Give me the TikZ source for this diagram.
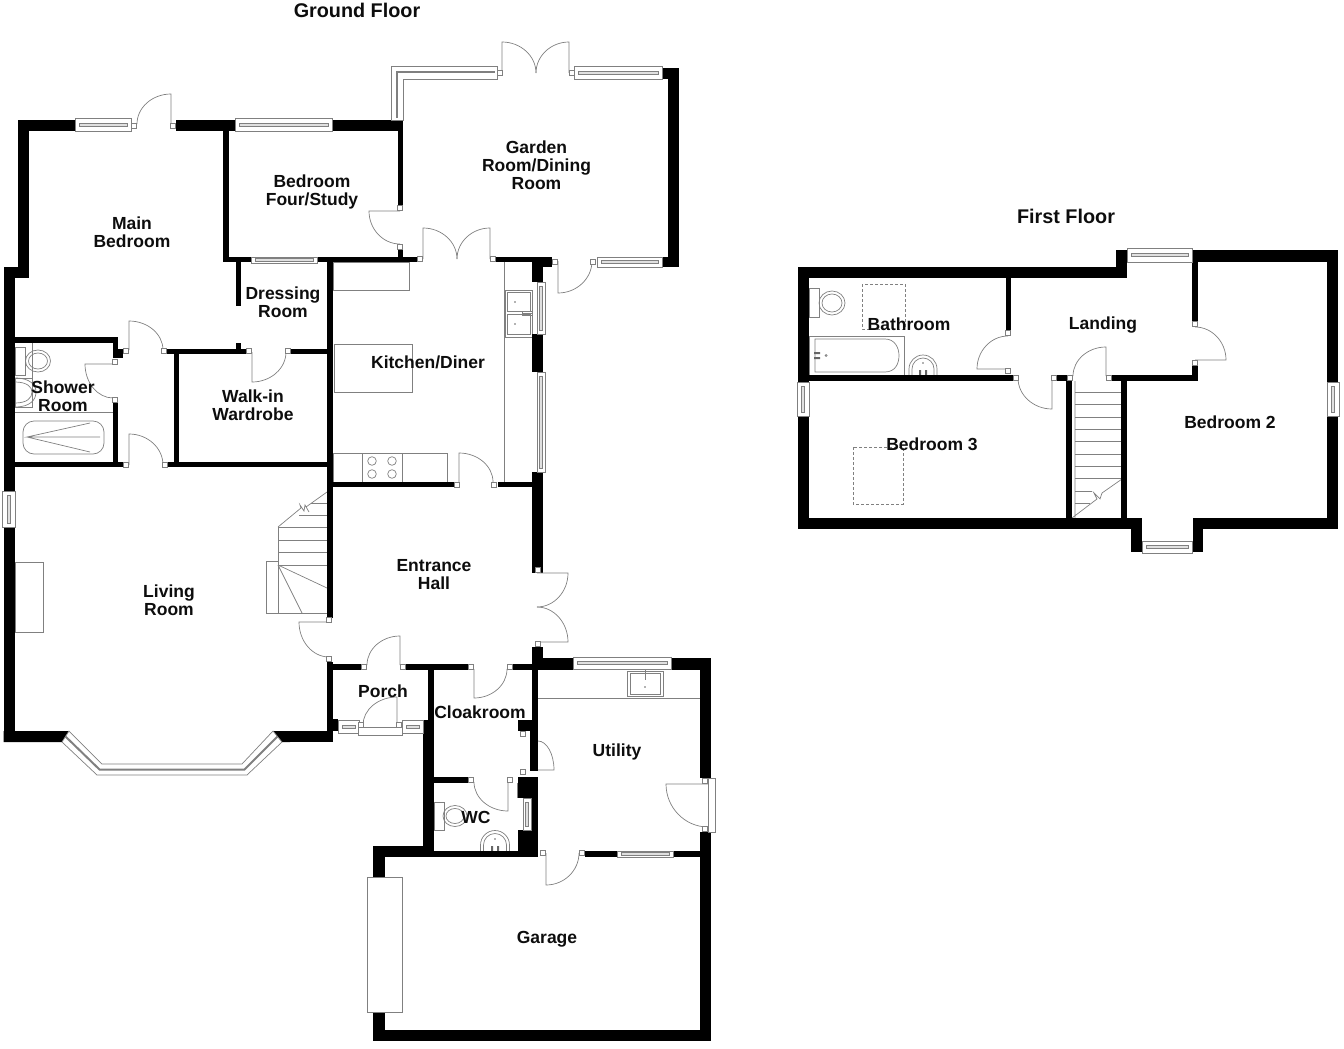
\documentclass[tikz,border=0pt]{standalone}
\usepackage{fontspec}
\setmainfont{Liberation Sans}
\usepackage{xcolor}
\usetikzlibrary{calc}
\tikzset{
    fixture/.style={draw=black!50, line width=0.7pt},
    glass/.style={draw=black!50, line width=0.7pt, fill=white},
    roomlabel/.style={font=\fontsize{17.5}{18}\selectfont\bfseries, align=center, inner sep=0pt, text=black!95},
    floorlabel/.style={font=\fontsize{19.8}{20}\selectfont\bfseries, inner sep=0pt, text=black!95}
}
\begin{document}
\begin{tikzpicture}[x=1pt,y=-1pt]
    \useasboundingbox (0,0) rectangle (1344,1049);

    % Kitchen and bathroom fittings
    \foreach \xa/\ya/\xb/\yb in {333/262/409/290, 334/344/412/392, 333/453/447/482, 362/453/402/482,
            505/290/532/337, 507/292/530/311, 507/314/530/334, 15/347/25/375, 15/378/32/407,
            434/802/444/830, 809/288/819/317, 809/336/904/375}
        \draw[fixture] (\xa,\ya) rectangle (\xb,\yb);
    \draw[fixture] (504,262) -- (504,482);
    \draw[fixture] (538,698) -- (700,698); % Worktop
    \draw[fixture] (627,671) rectangle (663,696) (630,673) rectangle (660,694);
    \foreach \x/\y in {372/461, 392/461, 372/474, 392/474}
        \draw[fixture] (\x,\y) circle (4.3);
    \foreach \x/\y in {515/302, 515/324, 645/687}
        \fill[black!60] (\x,\y) circle (0.9);
    \draw[fixture] (522,313) -- (532,313) (522,311) rectangle (532,315);
    \draw[fixture] (645,669) -- (645,680) (641,671) -- (649,671);

    % Toilets and basins
    \foreach \x/\y/\rx/\ry in {38/361/12.5/11, 455/816/12/10.5, 832/303/13/12}
        \draw[fixture] (\x,\y) ellipse ({\rx} and {\ry}) (\x,\y) ellipse ({\rx-3} and {\ry-3});
    \draw[fixture] (15,378) .. controls (30,378) and (36,385) .. (36,392) .. controls (36,400) and (30,407) .. (15,407);
    \draw[fixture] (15,382) .. controls (27,382) and (32,387) .. (32,392) .. controls (32,398) and (27,403) .. (15,403);
    \foreach \x/\r/\yb in {495/14.5/851, 923/14/375} {
        \draw[fixture] (\x-\r,\yb) -- (\x-\r,\yb-6) arc[start angle=180, end angle=360, radius=\r] -- (\x+\r,\yb);
        \draw[fixture] (\x-\r+3,\yb) -- (\x-\r+3,\yb-6) arc[start angle=180, end angle=360, radius=\r-3] -- (\x+\r-3,\yb);
        \fill[black!60] (\x-4,\yb-5) rectangle (\x-2,\yb) (\x+2,\yb-5) rectangle (\x+4,\yb);
        \fill[black!60] (\x,\yb-12) circle (0.9);
    }
    \draw[fixture] (15,412) -- (113,412) (32,343) -- (32,407);
    \draw[fixture, rounded corners=11] (23,421) rectangle (104,454);
    \draw[fixture] (100,437) -- (27,437) -- (90,423) (27,437) -- (90,452); % Shower tray
    \draw[fixture] (815,339) -- (885,339) .. controls (895,339) and (899,348) .. (899,355.5)
        .. controls (899,364) and (895,372) .. (885,372) -- (815,372) -- cycle;
    \fill[black!60] (814,352) rectangle (820,354) (814,357) rectangle (820,359);
    \draw[fixture] (826,355.5) circle (1);
    \draw[fixture] (517,783) -- (517,798);

    % Stairs
    \foreach \y in {527,540,552,565}
        \draw[fixture] (278,\y) -- (327,\y);
    \draw[fixture] (278,527) -- (278,613) (266,561) rectangle (278,613) (266,613) -- (327,613);
    \draw[fixture] (278,565) -- (327,588) (278,565) -- (302,613);
    \draw[fixture] (278,527) -- (301,508) (301,508) -- (300,505) -- (304,511) -- (305,505) -- (309,512)
        (306,507) -- (327,492);
    \draw[fixture] (299,515) -- (327,515) (311,503) -- (327,503);
    \foreach \y in {392,404,417,429,441,454,466,478}
        \draw[fixture] (1075,\y) -- (1122,\y);
    \draw[fixture] (1075,381) -- (1075,518) (1072,518) -- (1097,499) -- (1094,493) -- (1100,499) -- (1102,493);
    \draw[fixture] (1102,493) -- (1122,479);
    \draw[fixture] (1075,491) -- (1092,491) (1075,503) -- (1090,503);

    % Chimney breast, roof windows
    \draw[fixture] (15,562) rectangle (43,632);
    \draw[fixture, densely dashed] (862,284) rectangle (905,329);
    \draw[fixture, densely dashed] (853,447) rectangle (903,504);

    % Walls
    \foreach \xa/\ya/\xb/\yb in {
            18/120/75/131, 176/120/235/131, 332/120/403/131, 18/120/29/278, 3.5/267/29/278,
            3.5/267/15/491, 3.5/527/15/742, 223/131/229/262, 223/257/251/262, 317/257/418/262,
            236/262/241/306, 327/257/333/618, 327/662/333/742, 327/719/338/731, 273/731/333/742,
            15/337/118/343, 113/337/118/358, 113/349/123/358, 113/403/118/463,
            15/462/125/467, 168/462/333/467, 174/349/179/462, 167/349/247/354, 236/343/241/349,
            291/349/327/354, 398/120/403/206, 398/250/403/257, 496/257/552/262, 532/257/552/267,
            532/257/543/282, 532/334/543/372, 532/472/543/573, 333/482/454/487, 498/482/532/487,
            662/68/679/79, 668/68/679/267, 662/257/679/267, 532/647/543/670, 543/658/573/670,
            671/658/711/670, 700/658/711/778, 700/832/711/1041, 373/1030/711/1041, 373/846/385/877,
            373/1012/385/1041, 373/846/434/857, 434/851/538/857, 585/851/617/857, 673/851/700/857,
            333/664/362/670, 406/664/469/670, 513/664/532/670, 428/664/434/720, 423/720/434/846,
            532/664/538/720, 518/720/538/731, 530/731/538/771, 518/777/538/798, 530/798/538/830,
            518/830/538/851, 434/777/469/783,
            798/267/1127/278, 798/267/809/382, 798/416/809/529, 798/518/1142/529, 1131/518/1142/552,
            1193/518/1203/552, 1193/518/1338/529, 1327/250/1338/382, 1327/416/1338/529, 1192/250/1338/262,
            1116/250/1127/278, 1192/250/1198/321, 1192/366/1198/381, 1112/375/1198/381, 1057/375/1067/381,
            809/375/1013/381, 1006/278/1011/330, 1066/381/1072/518, 1121/381/1127/518}
        \fill[black] (\xa,\ya) rectangle (\xb,\yb);
    \fill[black] (3.5,731) -- (69,731) -- (62,742) -- (3.5,742) -- cycle;
    \fill[black] (273,731) -- (290,731) -- (290,742) -- (282,742) -- cycle;

    % Windows along a horizontal wall
    \foreach \xa/\ya/\xb/\yb in {75/118/131/131, 235/118/332/131, 251/257/317/263, 574/66/662/79,
            597/257/662/267, 573/657/671/669, 617/851/673/857.5, 338/720/359/733, 402/720/423/733,
            1127/248/1192/262, 1142/541/1192/553} {
        \draw[glass] (\xa,\ya) rectangle (\xb,\yb);
        \draw[fixture, fill=black!12] (\xa+4,{(\ya+\yb)/2-1.5}) rectangle (\xb-4,{(\ya+\yb)/2+1.5});
    }
    % Windows along a vertical wall
    \foreach \xa/\ya/\xb/\yb in {537/282/545/334, 537/372/545/472, 2/491/15/527, 523/798/531/830,
            797/382/809/416, 1327/382/1339/416} {
        \draw[glass] (\xa,\ya) rectangle (\xb,\yb);
        \draw[fixture, fill=black!12] ({(\xa+\xb)/2-1.5},\ya+4) rectangle ({(\xa+\xb)/2+1.5},\yb-4);
    }
    \draw[glass] (708,778) rectangle (715,832); % Utility side frame
    \draw[glass] (367,877) rectangle (402,1012); % Garage door
    \draw[glass] (358,727) rectangle (402,735); % Porch threshold

    % Bay window
    \draw[glass] (62,742) -- (69,731) -- (102,764) -- (242,764) -- (273,731) -- (282,742) -- (247,775) -- (97,775) -- cycle;
    \draw[black!50, line width=2pt] (65.5,736.5) -- (99.5,769.5) -- (244.5,769.5) -- (277.5,736.5);
    % Corner window
    \draw[glass] (391,120) -- (391,66) -- (497,66) -- (497,79) -- (403,79) -- (403,120) -- cycle;
    \draw[black!50, line width=2pt] (397,118) -- (397,72.5) -- (495,72.5);

    % Doors: hinge, tip of leaf, end of arc
    \foreach \hx/\hy/\tx/\ty/\ex/\ey in {
            171/124/171/94/137/124, 129/350/129/321/163/350, 129/465/129/434/163/465, 113/364/85/364/113/398,
            252/352/252/382/286/352, 400/211/369/211/400/244, 423/259/423/228/457/259, 490/259/490/228/457/259,
            502/73/502/42/536/73, 569/73/569/42/536/73, 558/261/558/293/592/261, 459/482/459/453/493/482,
            537/573/568/573/537/607, 537/642/568/642/537/607, 329/622/299/622/329/657, 400/665/400/636/367/665,
            397/725/397/697/363/725, 474/669/474/698/507/669, 538/770/554/770/538/741, 508/782/508/811/474/782,
            708/784/666/784/708/827, 546/853/546/885/579/853, 1195/360/1226/360/1195/327, 1106/376/1106/347/1073/376,
            1052/378/1052/409/1018/378, 1008/369/977/369/1008/336}
        \draw[fixture] (\hx,\hy) -- (\tx,\ty) .. controls ($(\tx,\ty)+0.55*(\ex,\ey)-0.55*(\hx,\hy)$)
            and ($(\ex,\ey)+0.55*(\tx,\ty)-0.55*(\hx,\hy)$) .. (\ex,\ey);

    % Door jambs
    \foreach \x/\y in {134/126, 173/126, 115/362, 115/400, 126/351, 164/351, 126/465, 165/465, 249/351, 288/351,
            400/208, 400/247, 420/259, 493/259, 500/73, 572/73, 555/262, 593/262, 456.5/484.5, 494/484.5,
            538/570, 538/644, 329/620, 329/659, 364/667, 403/667, 361/725, 399/725, 471/667, 510/667,
            523/734, 523/772, 471/780, 510/780, 705/781, 705/829, 543/853, 582/853,
            1195/324, 1195/363, 1109/378, 1070/378, 1054/378, 1016/378, 1008/371, 1008/333}
        \draw[glass] (\x-2.6,\y-2.6) rectangle (\x+2.6,\y+2.6);

    % Room names
    \node[floorlabel] (groundfloor) at (357,10) {Ground Floor};
    \node[floorlabel] (firstfloor) at (1066,216) {First Floor};
    \node[roomlabel] (mainbed) at (132,232) {Main\\Bedroom};
    \node[roomlabel] (bedfour) at (312,191.5) {Bedroom\\Four/Study};
    \node[roomlabel] (garden) at (536.5,165) {Garden\\Room/Dining\\Room};
    \node[roomlabel] (dressing) at (283,302) {Dressing\\Room};
    \node[roomlabel] (shower) at (63,396) {Shower\\Room};
    \node[roomlabel] (wardrobe) at (253,405) {Walk-in\\Wardrobe};
    \node[roomlabel] (kitchen) at (428,362) {Kitchen/Diner};
    \node[roomlabel] (hall) at (434,575) {Entrance\\Hall};
    \node[roomlabel] (living) at (169,600) {Living\\Room};
    \node[roomlabel] (porch) at (383,691) {Porch};
    \node[roomlabel] (cloak) at (480,712) {Cloakroom};
    \node[roomlabel] (utility) at (617,752) {Utility};
    \node[roomlabel] (wc) at (476,817) {WC};
    \node[roomlabel] (garage) at (547,939) {Garage};
    \node[roomlabel] (bathroom) at (909,324) {Bathroom};
    \node[roomlabel] (landing) at (1103,325) {Landing};
    \node[roomlabel] (bedthree) at (932,444) {Bedroom 3};
    \node[roomlabel] (bedtwo) at (1230,422) {Bedroom 2};
\end{tikzpicture}
\end{document}
